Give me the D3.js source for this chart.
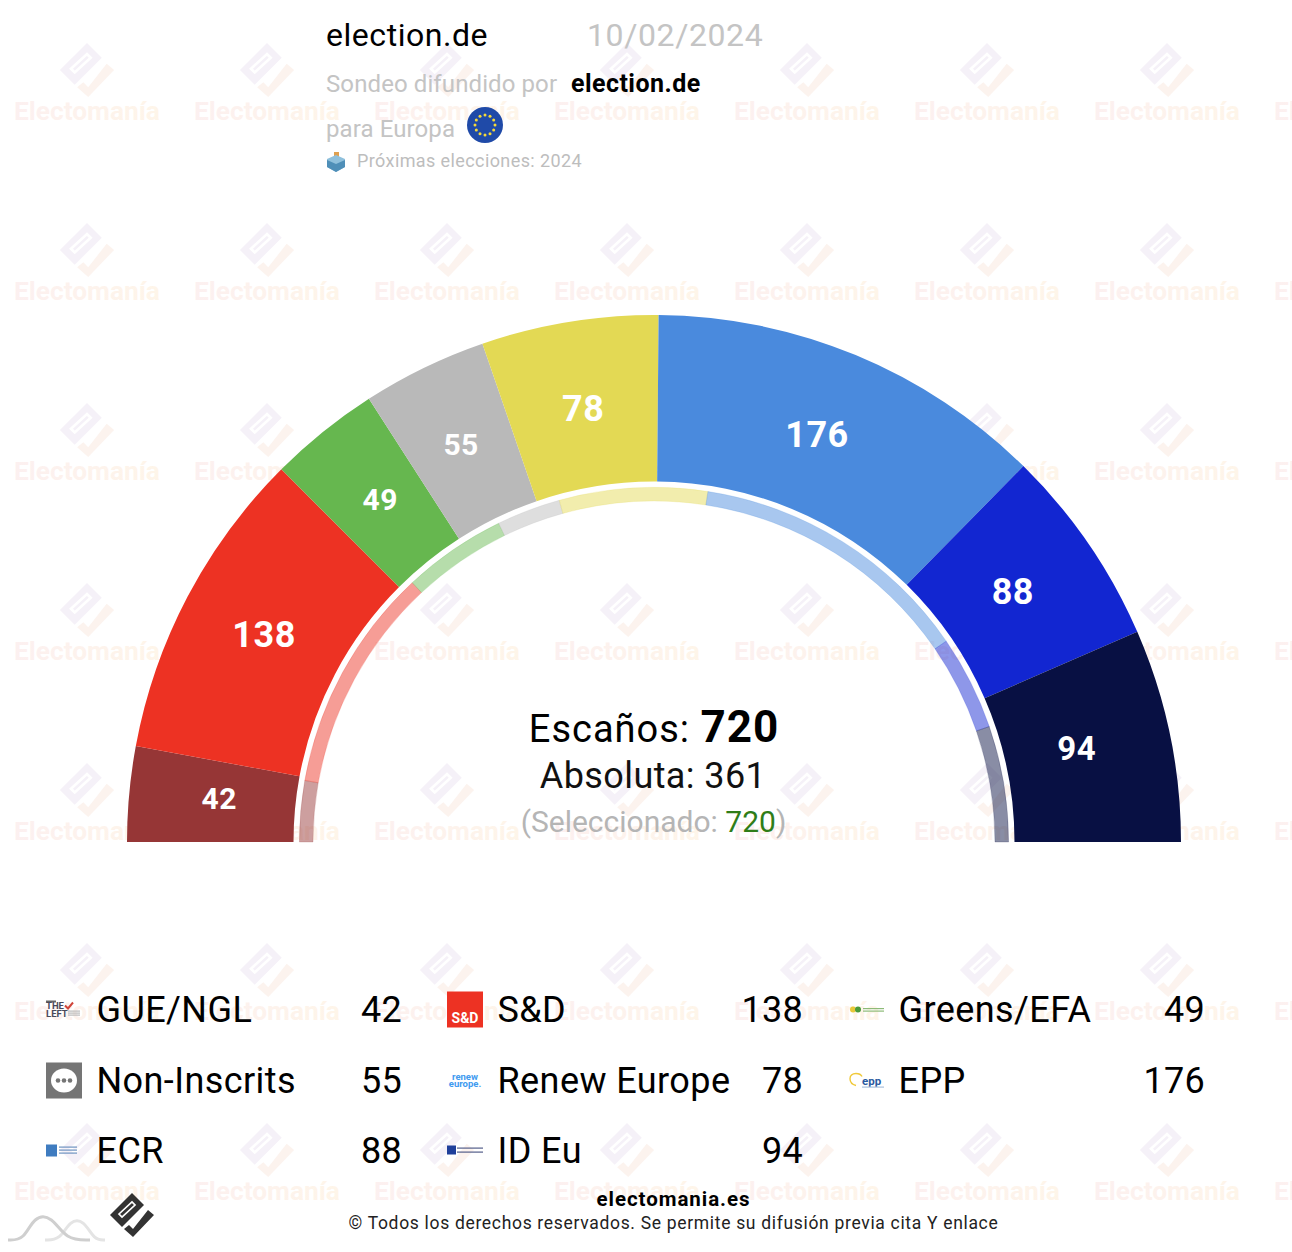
<!DOCTYPE html>
<html><head><meta charset="utf-8">
<script src="https://cdnjs.cloudflare.com/ajax/libs/d3/7.8.5/d3.min.js"></script>
<style>html,body{margin:0;padding:0;background:#fff}svg{display:block}text{font-family:Roboto,sans-serif}</style>
</head><body><div id="c"></div>
<script>
const parties=["GUE/NGL","S&D","Greens/EFA","Non-Inscrits","Renew Europe","EPP","ECR","ID Eu"];
const seats=[42,138,49,55,78,176,88,94];
const previousSeats=[40,148,68,42,97,187,62,76];
const colors=["#963636","#ED3223","#66B74F","#B9B9B9","#E3D954","#4A8ADD","#1226D1","#081043"];
const pollster="election.de", pollDate="10/02/2024";
const totalSeats=720, majority=361, selected=720;
const labelSizes=[30,36,30,30,36,36,36,33];
const labelRadius=[437,442,439,442,440,439,438,433];
const labelShiftDeg=[0.55,0.35,0.3,0,0,-0.7,-0.5,-0.75];

const W=1292,H=1252,cx=654,cy=842;
const svg=d3.select("#c").append("svg").attr("width",W).attr("height",H);
const defs=svg.append("defs");
const grad=defs.append("linearGradient").attr("id","wm");
grad.append("stop").attr("offset","0").attr("stop-color","#fcf0f0");
grad.append("stop").attr("offset","1").attr("stop-color","#fef5e9");

function logo(g,fillA,fillB,holeStroke,s,hw){
  const l=g.append("g").attr("transform",`scale(${s})`);
  l.append("path").attr("fill",fillA).attr("d","M0,-22 L12,-10 L-10,12 L-22,0 Z");
  l.append("path").attr("fill","none").attr("stroke",holeStroke).attr("stroke-width",hw)
    .attr("d","M-13,-1 L0,-13 L3,-10 L-10,2 Z");
  l.append("path").attr("fill",fillB).attr("d","M16,-5 L22,0 L1,22 L-8,14 L-3,10 L1,14 Z");
}
// watermark grid
const wmX=d3.range(0,8).map(i=>87+180*i), wmY=d3.range(0,7).map(i=>70+180*i);
const wmg=svg.append("g").attr("class","watermark");
wmY.forEach(y=>wmX.forEach(x=>{
  const g=wmg.append("g").attr("transform",`translate(${x},${y})`);
  logo(g,"#f5f1f8","#fcf3ee","#fff",1.23,2.2);
  g.append("text").attr("y",49.5).attr("text-anchor","middle").attr("font-size",26.3).attr("font-weight",700)
   .attr("fill","url(#wm)").text("Electomanía");
}));

// hemicycle
const angle=d3.scaleLinear().domain([0,totalSeats]).range([-Math.PI/2,Math.PI/2]);
const pie=d3.pie().sort(null).value(d=>d).startAngle(angle(0)).endAngle(angle(totalSeats));
const arcs=pie(seats), arcsPrev=pie(previousSeats);
const arcMain=d3.arc().innerRadius(360.5).outerRadius(527);
const arcInner=d3.arc().innerRadius(341).outerRadius(354.6);
const ch=svg.append("g").attr("transform",`translate(${cx},${cy})`);
ch.selectAll("path.m").data(arcs).join("path").attr("class","m").attr("d",arcMain).attr("fill",(d,i)=>colors[i]);
ch.selectAll("path.i").data(arcsPrev).join("path").attr("class","i").attr("d",arcInner)
  .attr("fill",(d,i)=>colors[i]).attr("fill-opacity",0.48)
  .attr("stroke",(d,i)=>colors[i]).attr("stroke-opacity",0.25).attr("stroke-width",0.8);
ch.selectAll("text.v").data(arcs).join("text").attr("class","v")
  .attr("transform",(d,i)=>{
    const a=(d.startAngle+d.endAngle)/2+labelShiftDeg[i]*Math.PI/180;
    return `translate(${labelRadius[i]*Math.sin(a)},${-labelRadius[i]*Math.cos(a)})`;})
  .attr("text-anchor","middle").attr("dy","0.36em").attr("font-weight",700).attr("fill","#fff")
  .attr("font-size",(d,i)=>labelSizes[i]).attr("letter-spacing",0.5).text(d=>d.value);

// centre
const t1=svg.append("text").attr("x",654).attr("y",742).attr("text-anchor","middle").attr("font-size",38).attr("letter-spacing",1).attr("fill","#000");
t1.append("tspan").text("Escaños: ");
t1.append("tspan").attr("font-weight",700).attr("font-size",44).text(totalSeats);
svg.append("text").attr("x",653).attr("y",788).attr("text-anchor","middle").attr("font-size",36).attr("letter-spacing",0.4).attr("fill","#111").text("Absoluta: "+majority);
const t3=svg.append("text").attr("x",653.5).attr("y",832).attr("text-anchor","middle").attr("font-size",30).attr("fill","#b5b5b5");
t3.append("tspan").text("(Seleccionado: ");
t3.append("tspan").attr("fill","#2f7d18").text(selected);
t3.append("tspan").text(")");

// header
svg.append("text").attr("x",326).attr("y",46).attr("font-size",32).attr("letter-spacing",0.55).attr("fill","#000").text(pollster);
svg.append("text").attr("x",587).attr("y",46).attr("font-size",32).attr("letter-spacing",0.6).attr("fill","#c4c4c4").text(pollDate);
svg.append("text").attr("x",326).attr("y",92).attr("font-size",24).attr("letter-spacing",0.1).attr("fill","#c4c4c4").text("Sondeo difundido por");
svg.append("text").attr("x",571).attr("y",92).attr("font-size",25).attr("font-weight",700).attr("letter-spacing",0.45).attr("fill","#000").text(pollster);
svg.append("text").attr("x",326).attr("y",136.5).attr("font-size",24).attr("letter-spacing",0.1).attr("fill","#c4c4c4").text("para Europa");
const eu=svg.append("g").attr("transform","translate(485,125)");
eu.append("circle").attr("r",18).attr("fill","#1f4aa8");
d3.range(12).forEach(i=>{const a=i*Math.PI/6;eu.append("circle").attr("cx",10*Math.cos(a)).attr("cy",10*Math.sin(a)).attr("r",1.5).attr("fill","#f5d93a");});
const box=svg.append("g").attr("transform","translate(336,163)");
box.append("rect").attr("x",-2).attr("y",-11).attr("width",5).attr("height",7).attr("fill","#e0a050");
box.append("path").attr("d","M-9,-4 L0,-8 L9,-4 L9,4 L0,9 L-9,4 Z").attr("fill","#8fc0dc");
box.append("path").attr("d","M-9,-3 L0,1 L9,-3 L9,4 L0,9 L-9,4 Z").attr("fill","#4f8fb8");
svg.append("text").attr("x",357).attr("y",167).attr("font-size",18).attr("letter-spacing",0.4).attr("fill","#bdbdbd").text("Próximas elecciones: 2024");

// legend
const colX=[46,447,848], valX=[402,803,1205], rowY=[1010,1081,1151];
const leg=svg.append("g");
function bars(ic,x,ys,w,col){ys.forEach(y=>ic.append("rect").attr("x",x).attr("y",y).attr("width",w).attr("height",1.2).attr("fill",col));}
parties.forEach((p,i)=>{
  const c=i%3,r=Math.floor(i/3),x=colX[c],y=rowY[r];
  const g=leg.append("g").attr("transform",`translate(${x},${y-0.5})`);
  g.append("text").attr("x",50.5).attr("y",0).attr("dy","0.35em").attr("font-size",36).attr("letter-spacing",0.42).attr("fill","#000").text(p);
  g.append("text").attr("x",valX[c]-x).attr("y",0).attr("dy","0.35em").attr("text-anchor","end").attr("font-size",36).attr("letter-spacing",0.3).attr("fill","#000").text(seats[i]);
  const ic=g.append("g");
  if(p==="S&D"){
    ic.append("rect").attr("y",-18).attr("width",36).attr("height",36).attr("fill","#ED3223");
    ic.append("text").attr("x",18).attr("y",13).attr("text-anchor","middle").attr("font-size",14).attr("font-weight",700).attr("fill","#fff").text("S&D");
  } else if(p==="Non-Inscrits"){
    ic.append("rect").attr("y",-18).attr("width",36).attr("height",36).attr("fill","#757575");
    ic.append("ellipse").attr("cx",18).attr("cy",0).attr("rx",13).attr("ry",12).attr("fill","#fff");
    [-6,0,6].forEach(d=>ic.append("circle").attr("cx",18+d).attr("cy",0).attr("r",2.3).attr("fill","#757575"));
  } else if(p==="GUE/NGL"){
    ic.append("rect").attr("x",0).attr("y",-9).attr("width",10).attr("height",2).attr("fill","#666");
    ic.append("text").attr("x",0).attr("y",-1).attr("font-size",9.5).attr("font-weight",700).attr("fill","#4a4a5a").text("THE");
    ic.append("text").attr("x",0).attr("y",7).attr("font-size",9.5).attr("font-weight",700).attr("fill","#4a4a5a").text("LEFT");
    ic.append("path").attr("d","M19,-4 L22,-1 L27,-7").attr("fill","none").attr("stroke","#d0453a").attr("stroke-width",2);
    bars(ic,22,[1,3,5],12,"#bbb");
  } else if(p==="Renew Europe"){
    ic.append("text").attr("x",18).attr("y",-1).attr("text-anchor","middle").attr("font-size",9.5).attr("font-weight",700).attr("fill","#3f9bf0").text("renew");
    ic.append("text").attr("x",18).attr("y",6).attr("text-anchor","middle").attr("font-size",9.5).attr("font-weight",700).attr("fill","#3f9bf0").text("europe.");
  } else if(p==="Greens/EFA"){
    ic.append("circle").attr("cx",5).attr("cy",0).attr("r",3).attr("fill","#e8c93a");
    ic.append("circle").attr("cx",10).attr("cy",0).attr("r",3).attr("fill","#4a9a3a");
    bars(ic,15,[-1.5,1],21,"#8dbb78");
  } else if(p==="EPP"){
    ic.append("path").attr("d","M8,5 C0,3 0,-7 8,-7 C11,-7 13,-6 14,-4").attr("fill","none").attr("stroke","#f0c93a").attr("stroke-width",1.4);
    ic.append("text").attr("x",14).attr("y",4).attr("font-size",11.5).attr("font-weight",700).attr("fill","#2a5aa0").text("epp");
    bars(ic,14,[6],22,"#aac0dc");
  } else if(p==="ECR"){
    ic.append("rect").attr("y",-6).attr("width",11).attr("height",12).attr("fill","#3f7cc0");
    bars(ic,13,[-4,-1,2],18,"#6f93c0");
  } else {
    ic.append("rect").attr("y",-5).attr("width",9).attr("height",9).attr("fill","#1f3f9a");
    bars(ic,10,[-3,1],26,"#555f8a");
  }
});

// footer
svg.append("text").attr("x",673.5).attr("y",1206).attr("text-anchor","middle").attr("font-size",20.5).attr("font-weight",700).attr("letter-spacing",0.95).attr("fill","#000").text("electomania.es");
svg.append("text").attr("x",673.5).attr("y",1229).attr("text-anchor","middle").attr("font-size",17.5).attr("letter-spacing",0.68).attr("fill","#222").text("© Todos los derechos reservados. Se permite su difusión previa cita Y enlace");
const fl=svg.append("g").attr("transform","translate(132,1215)");
logo(fl,"#333","#333","#fff",1,1.7);
const cur=d3.line().curve(d3.curveBasis);
const fg=svg.append("g").attr("fill","none").attr("stroke-width",3);
fg.append("path").attr("stroke","#e4e4e4").attr("d",cur([[45,1240],[60,1240],[70,1220],[84,1220],[94,1240],[105,1240]]));
fg.append("path").attr("stroke","#cfcfcf").attr("d",cur([[8,1240],[24,1240],[34,1216],[52,1216],[66,1240],[90,1240]]));
</script></body></html>
